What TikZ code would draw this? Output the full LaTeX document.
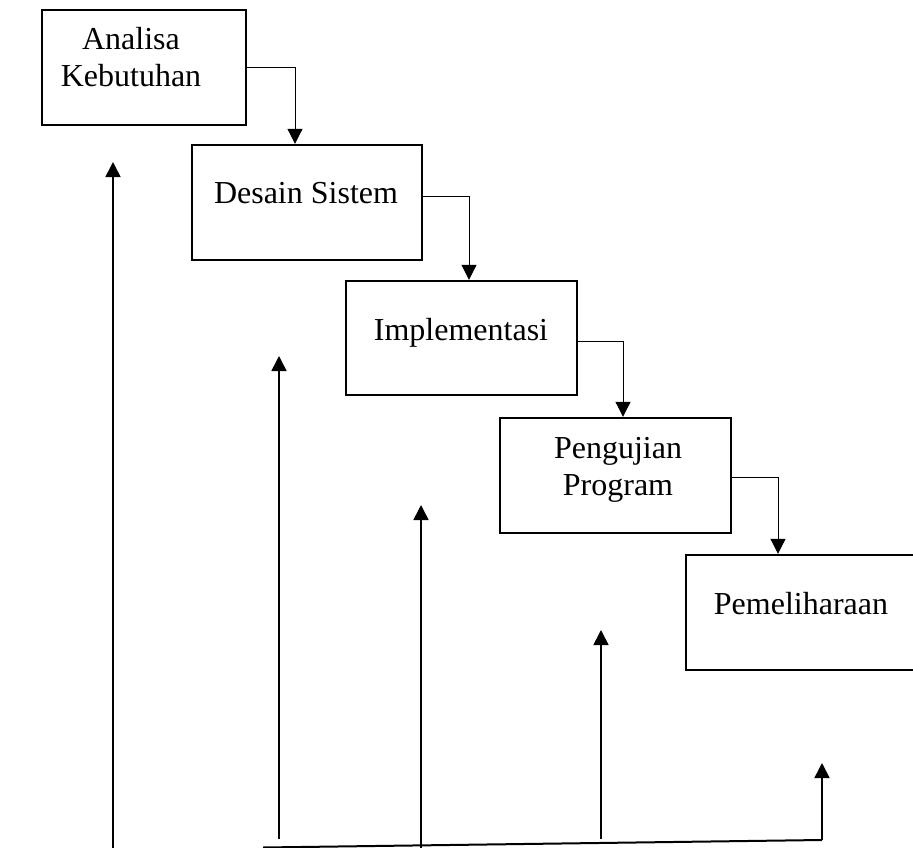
\documentclass[tikz,border=0pt]{standalone}
\usepackage{fontspec}
\setmainfont{Liberation Serif}
\usetikzlibrary{arrows.meta}
\begin{document}
\begin{tikzpicture}[x=1pt,y=-1pt,
  box/.style={draw=black, line width=2.4pt, inner sep=0pt, rectangle},
  lbl/.style={align=center, inner sep=0pt, anchor=base, font=\fontsize{32}{37}\selectfont},
  flow/.style={draw=black, line width=1pt, -{Triangle[length=15pt,width=15pt]}},
  loop/.style={draw=black, line width=1.6pt, -{Triangle[length=15pt,width=15pt]}},
  base/.style={draw=black, line width=2pt}]
\useasboundingbox (0,0) rectangle (913,848);
% boxes
\node[box, minimum width=204pt, minimum height=115pt] (b1) at (144,67.5) {};
\node[box, minimum width=230pt, minimum height=115pt] (b2) at (307,202.5) {};
\node[box, minimum width=231pt, minimum height=114pt] (b3) at (461.5,338) {};
\node[box, minimum width=231pt, minimum height=115pt] (b4) at (615.5,475.5) {};
\node[box, minimum width=230pt, minimum height=115pt] (b5) at (801,612.5) {};
% labels
\node[lbl] (t1) at (131,87) {Analisa\\Kebutuhan};
\node[lbl] (t2) at (306,204) {Desain Sistem};
\node[lbl] (t3) at (461,340) {Implementasi};
\node[lbl] (t4) at (618,495) {Pengujian\\Program};
\node[lbl] (t5) at (801,614) {Pemeliharaan};
% flow connectors
\coordinate (k1) at (295,0);
\coordinate (k2) at (469,0);
\coordinate (k3) at (623,0);
\coordinate (k4) at (778,0);
\draw[flow] (b1.east) -| (k1 |- b2.north);
\draw[flow] ([yshift=6pt]b2.east) -| (k2 |- b3.north);
\draw[flow] ([yshift=-3pt]b3.east) -| (k3 |- b4.north);
\draw[flow] ([yshift=-1.5pt]b4.east) -| (k4 |- b5.north);
% feedback arrows
\coordinate (s1) at (113,849); \coordinate (e1) at (113,162);
\coordinate (s2) at (279,839); \coordinate (e2) at (279,356);
\coordinate (s3) at (421,849); \coordinate (e3) at (421,505);
\coordinate (s4) at (601,839); \coordinate (e4) at (601,630);
\coordinate (s5) at (822,840); \coordinate (e5) at (822,763);
\draw[loop] (s1) -- (e1);
\draw[loop] (s2) -- (e2);
\draw[loop] (s3) -- (e3);
\draw[loop] (s4) -- (e4);
\draw[loop] (s5) -- (e5);
\coordinate (l0) at (263,847.5);
\draw[base] (l0) -- (s5);
\end{tikzpicture}
\end{document}
